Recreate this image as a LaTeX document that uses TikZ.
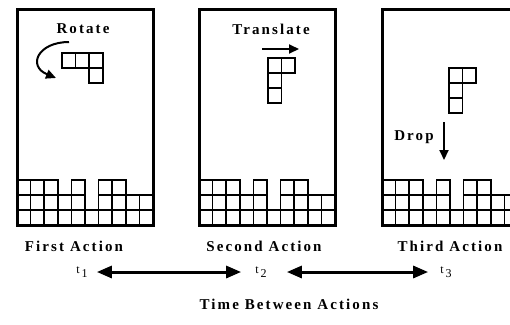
\documentclass[tikz,border=0pt]{standalone}
\usepackage{fontspec}
\setmainfont{Liberation Serif}[LetterSpace=14]
\usetikzlibrary{arrows.meta}
\tikzset{l/.style={font=\fontsize{15}{15}\selectfont\bfseries, inner sep=0pt}}
\tikzset{s/.style={font=\fontsize{12}{12}\selectfont, inner sep=0pt}}
\tikzset{cell/.style={line width=1.7pt}}
\tikzset{frame/.style={line width=3pt}}
\tikzset{mv/.style={line width=2pt, -{Triangle[length=10pt,width=9pt]}}}
\tikzset{tm/.style={line width=3pt, {Triangle[length=15pt,width=12pt]}-{Triangle[length=15pt,width=12pt]}}}
\newcommand{\wellc}{
  \foreach \c/\h in {0/3,1/3,2/3,3/2,4/3,5/1,6/3,7/3,8/2,9/2} {
    \foreach \r in {1,...,\h}
      \draw[cell] (13.6*\c, 216-15*\r) rectangle ++(13.6,15);
  }
  \draw[frame] (0,0) rectangle (136,216);
}
\newcommand{\piecec}[1]{
  \foreach \p in {#1}
    \draw[cell] \p rectangle ++(13.6,15);
}

\begin{document}
\begin{tikzpicture}[x=1pt,y=-1pt]
    \useasboundingbox (0,0) rectangle (510,324);
    \clip (0,0) rectangle (510,324);
    \begin{scope}[xshift=17pt, yshift=-9pt]
      \wellc
    \end{scope}
    \begin{scope}[xshift=199pt, yshift=-9pt]
      \wellc
    \end{scope}
    \begin{scope}[xshift=382pt, yshift=-9pt]
      \wellc
    \end{scope}
    % moves
    \piecec{(62,53),(75.6,53),(89.2,53),(89.2,68)}
    \node[l] (rot) at (83,29) {Rotate};
    \draw[mv] (69,42) .. controls (38,42) and (27,66) .. (56,78);
    \piecec{(268,58),(281.6,58),(268,73),(268,88)}
    \node[l] (trans) at (271,29) {Translate};
    \coordinate (ta) at (262,49);
    \coordinate (tb) at (299,49);
    \draw[mv] (ta) -- (tb);
    \piecec{(449,68),(462.6,68),(449,83),(449,98)}
    \node[l] (drop) at (414,137) {Drop};
    \coordinate (da) at (444,122);
    \coordinate (db) at (444,160);
    \draw[mv] (da) -- (db);
    % time line
    \node[l] (act1) at (74,246) {First Action};
    \node[l] (act2) at (264,246) {Second Action};
    \node[l] (act3) at (450,246) {Third Action};
    \node[s] (t1) at (82,272) {t\,\raisebox{-4pt}{1}};
    \node[s] (t2) at (261,272) {t\,\raisebox{-4pt}{2}};
    \node[s] (t3) at (446,272) {t\,\raisebox{-4pt}{3}};
    \draw[tm, shorten <=9pt, shorten >=14pt] (t1) -- (t2);
    \draw[tm, shorten <=20pt, shorten >=12pt] (t2) -- (t3);
    \node[l] (gap) at (289,304) {Time Between Actions};
  \end{tikzpicture}
\end{document}
